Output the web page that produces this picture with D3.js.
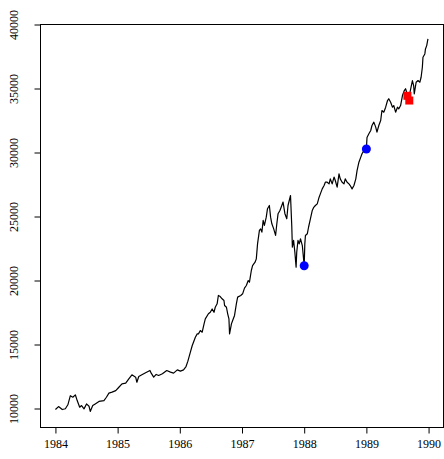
<!DOCTYPE html>
<html>
<head>
<meta charset="utf-8">
<script src="https://cdn.jsdelivr.net/npm/d3@7"></script>
<style>
body { margin: 0; background: #fff; }
.canvas text { font-family: "Liberation Serif", "DejaVu Serif", serif; font-size: 12px; }
</style>
</head>
<body>
<div id="canvas_main"></div>
<script>
// ----------------------------------------------------------
// DATA -----------------------------------------------------
// ----------------------------------------------------------
var years = [
1984.00, 1984.05, 1984.11, 1984.16, 1984.20, 1984.24, 1984.28, 1984.32, 1984.35, 1984.39,
1984.42, 1984.46, 1984.50, 1984.54, 1984.56, 1984.60, 1984.64, 1984.70, 1984.78, 1984.82,
1984.86, 1984.91, 1984.97, 1985.02, 1985.07, 1985.13, 1985.18, 1985.23, 1985.29, 1985.31,
1985.34, 1985.39, 1985.45, 1985.52, 1985.54, 1985.58, 1985.62, 1985.66, 1985.72, 1985.79,
1985.85, 1985.90, 1985.96, 1986.01, 1986.06, 1986.10, 1986.13, 1986.17, 1986.20, 1986.22,
1986.25, 1986.28, 1986.30, 1986.33, 1986.36, 1986.39, 1986.41, 1986.46, 1986.49, 1986.52,
1986.55, 1986.57, 1986.60, 1986.62, 1986.65, 1986.68, 1986.71, 1986.72, 1986.75, 1986.77,
1986.79, 1986.80, 1986.83, 1986.85, 1986.88, 1986.91, 1986.93, 1986.98, 1987.01, 1987.04,
1987.07, 1987.10, 1987.12, 1987.15, 1987.17, 1987.21, 1987.23, 1987.25, 1987.28, 1987.30,
1987.32, 1987.34, 1987.36, 1987.39, 1987.41, 1987.44, 1987.46, 1987.48, 1987.51, 1987.54,
1987.56, 1987.58, 1987.61, 1987.64, 1987.66, 1987.69, 1987.72, 1987.74, 1987.78, 1987.80,
1987.81, 1987.83, 1987.85, 1987.87, 1987.88, 1987.90, 1987.92, 1987.94, 1987.97, 1988.00,
1988.01, 1988.02, 1988.05, 1988.07, 1988.10, 1988.13, 1988.15, 1988.18, 1988.21, 1988.24,
1988.26, 1988.29, 1988.32, 1988.34, 1988.37, 1988.40, 1988.42, 1988.45, 1988.48, 1988.50,
1988.53, 1988.56, 1988.58, 1988.61, 1988.64, 1988.66, 1988.69, 1988.72, 1988.74, 1988.77,
1988.80, 1988.83, 1988.85, 1988.88, 1988.91, 1988.93, 1988.96, 1989.00, 1989.01, 1989.04,
1989.07, 1989.09, 1989.12, 1989.15, 1989.17, 1989.20, 1989.23, 1989.25, 1989.28, 1989.31,
1989.34, 1989.36, 1989.39, 1989.42, 1989.44, 1989.47, 1989.50, 1989.52, 1989.55, 1989.58,
1989.61, 1989.63, 1989.68, 1989.74, 1989.76, 1989.77, 1989.80, 1989.83, 1989.86, 1989.88,
1989.90, 1989.91, 1989.94, 1989.95, 1989.97, 1989.99
];
var closes = [
9920, 10150, 9920, 9980, 10290, 11000, 10880, 11070, 10620, 10100,
10230, 9970, 10360, 10180, 9770, 10230, 10360, 10550, 10620, 10880,
11200, 11280, 11400, 11660, 11930, 11980, 12320, 12630, 12450, 12050,
12500, 12630, 12790, 12970, 12760, 12450, 12660, 12580, 12710, 12970,
12840, 12760, 13020, 12920, 13020, 13280, 13700, 14400, 14920, 15180,
15570, 15830, 15830, 16090, 15960, 16610, 17000, 17400, 17520, 17780,
17520, 17910, 18180, 18830, 18750, 18570, 18440, 18050, 17910, 17400,
17000, 15830, 16610, 16880, 17270, 18200, 18700, 18830, 18960, 19400,
19610, 20000, 19870, 20780, 21170, 21430, 21690, 22860, 23910, 24030,
23780, 24690, 24300, 24950, 25610, 25860, 24950, 24430, 24030, 23520,
24430, 25220, 25470, 25860, 26130, 25220, 24820, 25860, 26640, 24300,
22600, 23130, 22210, 21040, 22210, 23130, 22860, 23260, 22730, 21150,
22860, 23520, 23650, 24160, 24820, 25470, 25690, 25860, 25990, 26510,
26770, 27160, 27420, 27680, 27680, 27550, 27940, 27550, 28080, 27810,
27290, 28330, 27940, 27680, 27550, 27940, 27680, 27550, 27420, 27160,
27420, 27940, 28590, 29240, 29640, 29900, 30160, 30270, 31170, 31460,
31720, 32110, 32370, 31980, 31590, 32110, 32500, 33280, 33150, 33540,
34060, 34200, 33930, 33540, 33670, 33150, 33540, 33410, 33670, 34450,
34840, 34980, 34200, 35620, 35230, 34580, 35490, 35620, 35490, 35880,
36660, 37440, 37700, 38090, 38350, 38870
];
// highlighted points
var blue_years = [1988.00, 1989.00];
var blue_values = [21150, 30270];
var red_years = [1989.66, 1989.69];
var red_values = [34430, 34060];
// tick labels
var x_ticks = [1984, 1985, 1986, 1987, 1988, 1989, 1990];
var y_ticks = [10000, 15000, 20000, 25000, 30000, 35000, 40000];

// ----------------------------------------------------------
// STRUCTURE ------------------------------------------------
// ----------------------------------------------------------
var width = 444;
var height = 459;
var plot = { left: 40.5, right: 443.5, top: 24.5, bottom: 427.5 };

var svg = d3.select("#canvas_main").append("svg")
.attr("width", width)
.attr("height", height)
.attr("class", "canvas")
.style("display", "block")
.style("background-color", "#fff");

// R style 4% padding on the x range
var xScale = d3.scaleLinear()
.domain([1983.76, 1990.24])
.range([plot.left, plot.right]);

var yScale = d3.scaleLinear()
.domain([8516, 40000])
.range([plot.bottom, plot.top]);

// ----------------------------------------------------------
// AXES -----------------------------------------------------
// ----------------------------------------------------------
var x_axis = svg.append("g")
.attr("transform", "translate(0," + plot.bottom + ")")
.call(d3.axisBottom(xScale)
.tickValues(x_ticks)
.tickSize(6)
.tickFormat(d3.format("d")));
x_axis.select(".domain").remove();
x_axis.selectAll(".tick line").attr("stroke", "#000");
x_axis.selectAll(".tick text")
.attr("y", 20)
.attr("dy", 0)
.attr("fill", "#000")
.style("font-family", "Liberation Serif")
.style("font-size", "12px");

var y_axis = svg.append("g")
.attr("transform", "translate(" + plot.left + ",0)")
.call(d3.axisLeft(yScale)
.tickValues(y_ticks)
.tickSize(6)
.tickFormat(d3.format("d")));
y_axis.select(".domain").remove();
y_axis.selectAll(".tick line").attr("stroke", "#000");
// rotated labels, reading bottom to top
y_axis.selectAll(".tick text")
.attr("transform", "rotate(-90)")
.attr("x", 0)
.attr("y", -22.5)
.attr("dy", 0)
.attr("text-anchor", "middle")
.attr("fill", "#000")
.style("font-family", "Liberation Serif")
.style("font-size", "12px");

// ----------------------------------------------------------
// GFX ------------------------------------------------------
// ----------------------------------------------------------
var series = years.map(function(y, i) { return [y, closes[i]]; });

svg.append("path")
.datum(series)
.attr("fill", "none")
.attr("stroke", "#000")
.attr("stroke-width", 1.2)
.attr("stroke-linejoin", "round")
.attr("d", d3.line()
.x(function(d) { return xScale(d[0]); })
.y(function(d) { return yScale(d[1]); }));

svg.selectAll(".blue_dot")
.data(blue_years)
.enter()
.append("circle")
.attr("class", "blue_dot")
.attr("cx", function(d) { return xScale(d); })
.attr("cy", function(d, i) { return yScale(blue_values[i]); })
.attr("r", 4.5)
.attr("fill", "#0000ff");

svg.selectAll(".red_square")
.data(red_years)
.enter()
.append("rect")
.attr("class", "red_square")
.attr("x", function(d) { return xScale(d) - 4; })
.attr("y", function(d, i) { return yScale(red_values[i]) - 4; })
.attr("width", 8)
.attr("height", 8)
.attr("fill", "#ff0000");

// box
svg.append("rect")
.attr("x", plot.left)
.attr("y", plot.top)
.attr("width", plot.right - plot.left)
.attr("height", plot.bottom - plot.top)
.attr("fill", "none")
.attr("stroke", "#000")
.attr("stroke-width", 1);
</script>
</body>
</html>
